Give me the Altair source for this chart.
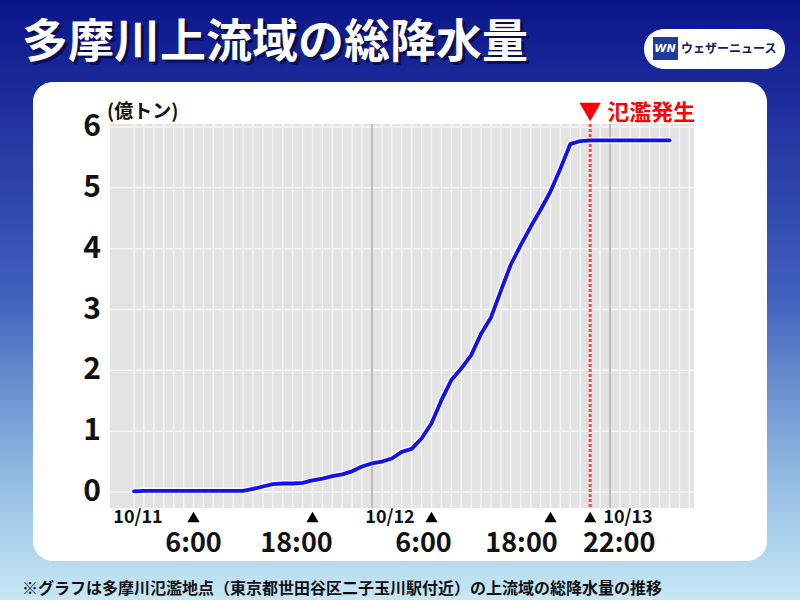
import altair as alt
import pandas as pd

# ---------------- data ----------------
hours = list(range(0, 55))  # hours since 10/11 0:00
rain = [0.01, 0.02, 0.02, 0.02, 0.02, 0.02, 0.02, 0.02, 0.02, 0.02, 0.02, 0.02,
        0.05, 0.09, 0.13, 0.14, 0.14, 0.15, 0.19, 0.22, 0.26, 0.29, 0.34, 0.42,
        0.47, 0.50, 0.55, 0.66, 0.71, 0.88, 1.13, 1.51, 1.84, 2.03, 2.25, 2.60,
        2.87, 3.31, 3.74, 4.06, 4.36, 4.64, 4.94, 5.32, 5.72, 5.77, 5.78, 5.78,
        5.78, 5.78, 5.78, 5.78, 5.78, 5.78, 5.78]

y_ticks = [0, 1, 2, 3, 4, 5, 6]
grid_hours = list(range(0, 57))
day_hours = [24, 48]
date_labels = ["10/11", "10/12", "10/13"]
date_hours = [0, 24, 48]
time_labels = ["6:00", "18:00", "6:00", "18:00", "22:00"]
time_hours = [6, 18, 30, 42, 46]
flood_hour = 46

title_text = "多摩川上流域の総降水量"
unit_text = "(億トン)"
flood_text = "氾濫発生"
brand_text = "ウェザーニュース"
footer_text = "※グラフは多摩川氾濫地点（東京都世田谷区二子玉川駅付近）の上流域の総降水量の推移"

# ---------------- layout helpers ----------------
FONT = "Noto Sans CJK JP"
LEFT, TOP, W, H = 110, 124, 584, 384
def px(x):
    return x - LEFT
def py(y):
    return y - TOP

xs = alt.Scale(domain=[-2.42, 56.47], nice=False, zero=False)
ys = alt.Scale(domain=[-0.263, 6.05], nice=False, zero=False)

one = pd.DataFrame({"k": [0]})

bg = alt.Chart(one).mark_rect(
    fill=alt.Gradient(
        gradient="linear",
        stops=[alt.GradientStop(color="#0b1589", offset=0),
               alt.GradientStop(color="#1f2f9f", offset=0.18),
               alt.GradientStop(color="#4262bd", offset=0.5),
               alt.GradientStop(color="#8ab2de", offset=0.76),
               alt.GradientStop(color="#c6e8f6", offset=1)],
        x1=0, x2=0, y1=0, y2=1)
).encode(x=alt.value(px(0)), x2=alt.value(px(800)), y=alt.value(py(0)), y2=alt.value(py(600)))

panel = alt.Chart(one).mark_rect(fill="white", cornerRadius=20).encode(
    x=alt.value(px(33)), x2=alt.value(px(767)), y=alt.value(py(82)), y2=alt.value(py(561)))

plotbg = alt.Chart(one).mark_rect(fill="#e3e3e3").encode(
    x=alt.value(0), x2=alt.value(W), y=alt.value(0), y2=alt.value(H))

hgrid = alt.Chart(pd.DataFrame({"v": y_ticks})).mark_rule(color="#f6f6f6", strokeWidth=1.5).encode(
    y=alt.Y("v:Q", scale=ys, axis=None))

vgrid = alt.Chart(pd.DataFrame({"h": grid_hours})).mark_rule(color="#f3f3f3", strokeWidth=1.5).encode(
    x=alt.X("h:Q", scale=xs, axis=None))

days = alt.Chart(pd.DataFrame({"h": day_hours})).mark_rule(color="#bcbcbc", strokeWidth=2).encode(
    x=alt.X("h:Q", scale=xs, axis=None))

flood = alt.Chart(pd.DataFrame({"h": [flood_hour]})).mark_rule(
    color="#ff4545", strokeWidth=3, strokeDash=[3, 2]).encode(
    x=alt.X("h:Q", scale=xs, axis=None))

df = pd.DataFrame({"h": hours, "v": rain})
halo = alt.Chart(df).mark_line(color="#fffbe6", strokeWidth=6.5, opacity=0.8,
                               strokeJoin="round", strokeCap="round").encode(
    x=alt.X("h:Q", scale=xs, axis=None), y=alt.Y("v:Q", scale=ys, axis=None))
line = alt.Chart(df).mark_line(color="#1010f2", strokeWidth=3.8,
                               strokeJoin="round", strokeCap="round").encode(
    x=alt.X("h:Q", scale=xs, axis=None), y=alt.Y("v:Q", scale=ys, axis=None))

ylab = alt.Chart(pd.DataFrame({"v": y_ticks})).mark_text(
    font=FONT, fontSize=30, fontWeight="bold", color="#111111", align="right", baseline="middle"
).encode(y=alt.Y("v:Q", scale=ys, axis=None), x=alt.value(px(101)), text="v:Q")

unit = alt.Chart(pd.DataFrame({"t": [unit_text]})).mark_text(
    font=FONT, fontSize=19, fontWeight="bold", color="#111111", align="left", baseline="middle"
).encode(x=alt.value(px(107)), y=alt.value(py(112)), text="t:N")

flood_tri = alt.Chart(pd.DataFrame({"h": [flood_hour]})).mark_point(
    shape="triangle-down", size=460, filled=True, color="#ff0000", opacity=1
).encode(x=alt.X("h:Q", scale=xs, axis=None), y=alt.value(py(112)))

flood_lbl = alt.Chart(pd.DataFrame({"h": [flood_hour], "t": [flood_text]})).mark_text(
    font=FONT, fontSize=22, fontWeight="bold", color="#ff0000", align="left", baseline="middle", dx=17
).encode(x=alt.X("h:Q", scale=xs, axis=None), y=alt.value(py(113)), text="t:N")

tick_tri = alt.Chart(pd.DataFrame({"h": time_hours})).mark_point(
    shape="triangle-up", size=150, filled=True, color="#000000", opacity=1
).encode(x=alt.X("h:Q", scale=xs, axis=None), y=alt.value(py(517)))

# per-label horizontal nudges (style only)
time_nudge = [0, -16, -8, -29, 29]
date_nudge = [4, 18, 18]

time_layers = []
for lbl, hr, dx in zip(time_labels, time_hours, time_nudge):
    time_layers.append(
        alt.Chart(pd.DataFrame({"h": [hr], "t": [lbl]})).mark_text(
            font=FONT, fontSize=27, fontWeight="bold", color="#111111", align="center",
            baseline="middle", dx=dx
        ).encode(x=alt.X("h:Q", scale=xs, axis=None), y=alt.value(py(544)), text="t:N"))

date_layers = []
for lbl, hr, dx in zip(date_labels, date_hours, date_nudge):
    date_layers.append(
        alt.Chart(pd.DataFrame({"h": [hr], "t": [lbl]})).mark_text(
            font=FONT, fontSize=18, fontWeight="bold", color="#111111", align="center",
            baseline="middle", dx=dx
        ).encode(x=alt.X("h:Q", scale=xs, axis=None), y=alt.value(py(518)), text="t:N"))

tdf = pd.DataFrame({"t": [title_text]})
title_shadow = alt.Chart(tdf).mark_text(
    font=FONT, fontSize=46, fontWeight="bold", color="#000022", opacity=0.55,
    align="left", baseline="middle"
).encode(x=alt.value(px(25)), y=alt.value(py(46)), text="t:N")
title = alt.Chart(tdf).mark_text(
    font=FONT, fontSize=46, fontWeight="bold", color="#ffffff", align="left", baseline="middle"
).encode(x=alt.value(px(22)), y=alt.value(py(43)), text="t:N")

pill = alt.Chart(one).mark_rect(fill="white", cornerRadius=20).encode(
    x=alt.value(px(644)), x2=alt.value(px(785)), y=alt.value(py(29)), y2=alt.value(py(69)))
wn_box = alt.Chart(one).mark_rect(fill="#1d3c9e").encode(
    x=alt.value(px(653)), x2=alt.value(px(678)), y=alt.value(py(37)), y2=alt.value(py(60)))
wn_txt = alt.Chart(pd.DataFrame({"t": ["WN"]})).mark_text(
    font="DejaVu Sans", fontSize=11, fontWeight="bold", fontStyle="italic", color="white",
    align="center", baseline="middle"
).encode(x=alt.value(px(665)), y=alt.value(py(49)), text="t:N")
brand = alt.Chart(pd.DataFrame({"t": [brand_text]})).mark_text(
    font=FONT, fontSize=12, fontWeight="bold", color="#0d1a66", align="left", baseline="middle"
).encode(x=alt.value(px(681)), y=alt.value(py(49)), text="t:N")

footer = alt.Chart(pd.DataFrame({"t": [footer_text]})).mark_text(
    font=FONT, fontSize=16, fontWeight="bold", color="#111111", align="left", baseline="middle"
).encode(x=alt.value(px(22)), y=alt.value(py(589)), text="t:N")

chart = alt.layer(
    bg, panel, plotbg, hgrid, vgrid, days, flood, halo, line,
    ylab, unit, flood_tri, flood_lbl, tick_tri, *time_layers, *date_layers,
    title_shadow, title, pill, wn_box, wn_txt, brand, footer
).properties(
    width=W, height=H,
    autosize=alt.AutoSizeParams(type="none"),
    padding={"left": LEFT, "top": TOP, "right": 800 - LEFT - W, "bottom": 600 - TOP - H},
    background="#c6e8f6"
).configure_view(strokeWidth=0)

chart.save("out.html", embed_options={"renderer": "svg", "actions": False})
